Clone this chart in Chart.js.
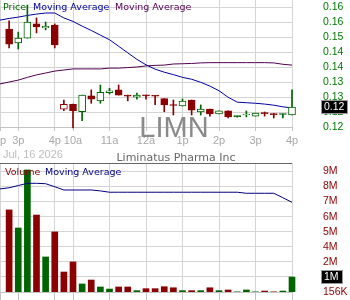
<!DOCTYPE html>
<html><head><meta charset="utf-8">
<script src="https://cdn.jsdelivr.net/npm/chart.js@4.4.1/dist/chart.umd.min.js"></script>
<style>
html,body{margin:0;padding:0;background:#fff;overflow:hidden;}
#wrap{position:relative;width:350px;height:300px;background:#fff;}
#c1{position:absolute;left:0;top:0;}
#c2{position:absolute;left:0;top:163px;}
</style></head><body>
<div id="wrap"><canvas id="c1" width="350" height="163"></canvas><canvas id="c2" width="350" height="137"></canvas></div>
<script>
// ---------- DATA ----------
const ticker = 'LIMN';
const companyName = 'Liminatus Pharma Inc';
const dateLabel = 'Jul, 16 2026';
const xTickPositions = [-1, 1, 5, 7, 11, 15, 19, 23, 27, 31];
const xTickLabels = ['2p', '3p', '4p', '10a', '11a', '12a', '1p', '2p', '3p', '4p'];

const opens  = [0.1529,0.1478,0.1496,0.1548,0.1533,0.1544,0.1235,0.1253,0.1226,0.1284,0.1266,0.1296,0.1306,0.1287,0.1279,0.1287,0.1284,0.1274,0.1250,0.1247,0.1269,0.1225,0.1236,0.1218,0.1229,0.1210,0.1214,0.1210,0.1221,0.1219,0.1218,0.1214];
const highs  = [0.1559,0.1518,0.1617,0.1570,0.1555,0.1548,0.1269,0.1254,0.1287,0.1306,0.1324,0.1312,0.1324,0.1287,0.1294,0.1287,0.1284,0.1274,0.1269,0.1273,0.1269,0.1251,0.1236,0.1229,0.1229,0.1210,0.1229,0.1221,0.1225,0.1220,0.1218,0.1306];
const lows   = [0.1460,0.1456,0.1496,0.1515,0.1526,0.1460,0.1230,0.1167,0.1193,0.1257,0.1257,0.1291,0.1287,0.1266,0.1272,0.1272,0.1252,0.1226,0.1214,0.1247,0.1214,0.1214,0.1210,0.1218,0.1203,0.1206,0.1207,0.1210,0.1210,0.1203,0.1203,0.1214];
const closes = [0.1474,0.1496,0.1555,0.1537,0.1540,0.1471,0.1253,0.1230,0.1287,0.1272,0.1297,0.1303,0.1287,0.1283,0.1287,0.1284,0.1283,0.1251,0.1249,0.1265,0.1232,0.1236,0.1218,0.1229,0.1207,0.1208,0.1215,0.1221,0.1219,0.1215,0.1216,0.1243];
const barColors = ['r','g','g','r','g','r','r','r','g','r','g','g','r','r','g','r','r','r','r','g','r','g','r','g','r','g','g','g','r','r','g','g'];
const volumes = [6.42,5.04,9.47,6.03,2.83,4.74,1.68,2.45,0.77,1.07,0.54,0.38,0.54,0.54,0.26,0.41,0.41,0.56,0.48,0.26,0.26,0.26,0.48,0.26,0.31,0.17,0.31,0.17,0.23,0.17,0.23,1.30];

// moving averages, slots -1 .. 31
const priceMA1 = [0.1562,0.1568,0.1573,0.1579,0.1584,0.1588,0.1588,0.1570,0.1557,0.1540,0.1524,0.1507,0.1490,0.1466,0.1442,0.1418,0.1398,0.1382,0.1371,0.1362,0.1352,0.1345,0.1334,0.1320,0.1303,0.1279,0.1261,0.1259,0.1257,0.1254,0.1250,0.1244,0.1240];
const priceMA2 = [0.1328,0.1335,0.1342,0.1352,0.1361,0.1368,0.1375,0.1379,0.1383,0.1383,0.1383,0.1383,0.1386,0.1386,0.1388,0.1390,0.1394,0.1396,0.1397,0.1401,0.1402,0.1403,0.1405,0.1406,0.1406,0.1406,0.1406,0.1406,0.1406,0.1406,0.1405,0.1400,0.1397];
const volumeMA = [8.02,8.11,8.28,8.45,8.45,8.42,8.19,7.94,7.94,7.94,7.94,7.87,7.77,7.77,7.77,7.77,7.77,7.77,7.77,7.77,7.77,7.77,7.77,7.77,7.77,7.77,7.77,7.69,7.69,7.69,7.69,7.35,7.00];

const priceTickValues = [0.117,0.1225,0.128,0.1335,0.139,0.1445,0.150,0.1555,0.161];
const priceTickLabels = ['0.12','0.12','0.13','0.13','0.14','0.14','0.15','0.16','0.16'];
const volumeTickValues = [0.156,1.306,2.456,3.606,4.756,5.906,7.056,8.206,9.356];
const volumeTickLabels = ['156K','1M','2M','4M','5M','6M','7M','8M','9M'];
const lastPriceLabel = '0.12';
const lastVolumeLabel = '1M';

// ---------- STYLE ----------
const RED = '#8b0000', GREEN = '#006400';
const GRID = '#d4d4d4';
const col = c => c === 'r' ? RED : GREEN;
const candleSlots = opens.map((_, i) => i);
const maSlots = priceMA1.map((_, i) => i - 1);

function noPad(s){ s.paddingLeft = 0; s.paddingRight = 0; s.paddingTop = 0; s.paddingBottom = 0; }
function xScale(showLabels, h, tickLen){
  return {
    type: 'linear', min: -1, max: 31, offset: false, bounds: 'data',
    afterBuildTicks: s => { s.ticks = xTickPositions.map(v => ({value: v})); },
    afterFit: s => { s.height = h; noPad(s); },
    ticks: { display: showLabels, autoSkip: false, maxRotation: 0, minRotation: 0, padding: 4, color: '#a8a8a8',
      font: { family: 'Liberation Sans', size: 11, lineHeight: 1 }, callback: (v, i) => xTickLabels[i] },
    grid: { color: GRID, offset: false, drawTicks: true, tickLength: tickLen, tickColor: '#c4c4c4' },
    border: { display: true, color: '#c4c4c4' }
  };
}
function yScale(min, max, vals, labels, color){
  return {
    type: 'linear', position: 'right', min: min, max: max, beginAtZero: false, bounds: 'data',
    afterBuildTicks: s => { s.ticks = vals.map(v => ({value: v})); },
    afterFit: s => { s.width = 58; noPad(s); },
    ticks: { autoSkip: false, padding: 31, color: color, font: { family: 'Liberation Sans', size: 10.5 }, callback: (v, i) => labels[i] },
    grid: { color: GRID, drawTicks: false },
    border: { display: false }
  };
}
function highlight(ctx, text, y){
  ctx.font = '10.5px "Liberation Sans"';
  const w = Math.round(ctx.measureText(text).width) + 5;
  const top = Math.round(y - 6);
  ctx.fillStyle = '#000';
  ctx.fillRect(322, top, w, 12);
  ctx.strokeStyle = '#999'; ctx.lineWidth = 1;
  ctx.strokeRect(321.5, top - 0.5, w + 1, 13);
  ctx.fillStyle = '#fff'; ctx.textAlign = 'left'; ctx.textBaseline = 'middle';
  ctx.fillText(text, 324, top + 6.5);
}

Chart.defaults.font.family = 'Liberation Sans';
const common = { responsive: false, animation: false, devicePixelRatio: 1,
  layout: { padding: 0 }, plugins: { legend: { display: false }, tooltip: { enabled: false }, title: { display: false } } };

const clipBox = { left: 6, right: 6, top: 6, bottom: 3 };

const pricePlugin = {
  id: 'priceDecor',
  beforeDatasetsDraw(chart){
    const ctx = chart.ctx; ctx.save();
    ctx.font = '29px "Liberation Sans"'; ctx.fillStyle = '#8a8a8a';
    ctx.textAlign = 'center'; ctx.textBaseline = 'alphabetic';
    ctx.fillText(ticker, 174, 137);
    ctx.restore();
  },
  afterDraw(chart){
    const ctx = chart.ctx; ctx.save();
    ctx.textBaseline = 'alphabetic'; ctx.textAlign = 'left';
    ctx.font = '9.5px "DejaVu Sans"';
    ctx.fillStyle = GREEN; ctx.fillText('Price', 3, 10);
    ctx.fillStyle = '#0000a0'; ctx.fillText('Moving Average', 33, 10);
    ctx.fillStyle = '#500050'; ctx.fillText('Moving Average', 115, 10);
    ctx.font = '11px "Liberation Sans"'; ctx.fillStyle = '#bdbdbd';
    ctx.fillText(dateLabel, 3, 158);
    ctx.font = '11px "DejaVu Sans"'; ctx.fillStyle = '#666'; ctx.textAlign = 'center';
    ctx.fillText(companyName, 176, 160.5);
    highlight(ctx, lastPriceLabel, chart.scales.y.getPixelForValue(closes[closes.length - 1]));
    ctx.restore();
  }
};

new Chart(document.getElementById('c1'), {
  type: 'bar',
  data: { datasets: [
    { type: 'bar', order: 1, grouped: false, clip: clipBox,
      data: candleSlots.map(i => ({ x: i, y: [opens[i], closes[i]] })),
      backgroundColor: candleSlots.map(i => closes[i] > opens[i] ? '#ffffff' : col(barColors[i])),
      borderColor: candleSlots.map(i => col(barColors[i])),
      borderWidth: 1, borderSkipped: false, barThickness: 7, minBarLength: 1 },
    { type: 'bar', order: 2, grouped: false, clip: clipBox,
      data: candleSlots.map(i => ({ x: i, y: [lows[i], highs[i]] })),
      backgroundColor: candleSlots.map(i => col(barColors[i])), borderWidth: 0, barThickness: 1 },
    { type: 'line', order: 3, data: maSlots.map((s, i) => ({ x: s, y: priceMA1[i] })),
      borderColor: '#0000a0', borderWidth: 1, pointRadius: 0, tension: 0, fill: false },
    { type: 'line', order: 4, data: maSlots.map((s, i) => ({ x: s, y: priceMA2[i] })),
      borderColor: '#500050', borderWidth: 1, pointRadius: 0, tension: 0, fill: false }
  ]},
  options: Object.assign({}, common, {
    scales: { x: xScale(true, 36, 4), y: yScale(0.117, 0.16357, priceTickValues, priceTickLabels, '#007a00') }
  }),
  plugins: [pricePlugin]
});

const volumePlugin = {
  id: 'volDecor',
  afterDraw(chart){
    const ctx = chart.ctx; ctx.save();
    ctx.strokeStyle = '#666'; ctx.lineWidth = 1;
    ctx.beginPath(); ctx.moveTo(0, 0.5); ctx.lineTo(292, 0.5); ctx.stroke();
    ctx.textBaseline = 'alphabetic'; ctx.textAlign = 'left';
    ctx.font = '9.5px "DejaVu Sans"';
    ctx.fillStyle = RED; ctx.fillText('Volume', 5, 11.5);
    ctx.fillStyle = '#000080'; ctx.fillText('Moving Average', 45, 11.5);
    highlight(ctx, lastVolumeLabel, chart.scales.y.getPixelForValue(volumes[volumes.length - 1]));
    ctx.restore();
  }
};

new Chart(document.getElementById('c2'), {
  type: 'bar',
  data: { datasets: [
    { type: 'line', order: 1, data: maSlots.map((s, i) => ({ x: s, y: volumeMA[i] })),
      borderColor: '#000080', borderWidth: 1, pointRadius: 0, tension: 0, fill: false },
    { type: 'bar', order: 2, grouped: false, clip: { left: 5, right: 5, top: 0, bottom: 0 },
      data: candleSlots.map(i => ({ x: i, y: volumes[i] })),
      backgroundColor: candleSlots.map(i => col(barColors[i])), borderWidth: 0, barThickness: 6 }
  ]},
  options: Object.assign({}, common, {
    scales: { x: xScale(false, 8, 8), y: yScale(0.156, 10.0, volumeTickValues, volumeTickLabels, RED) }
  }),
  plugins: [volumePlugin]
});
</script>
</body></html>
